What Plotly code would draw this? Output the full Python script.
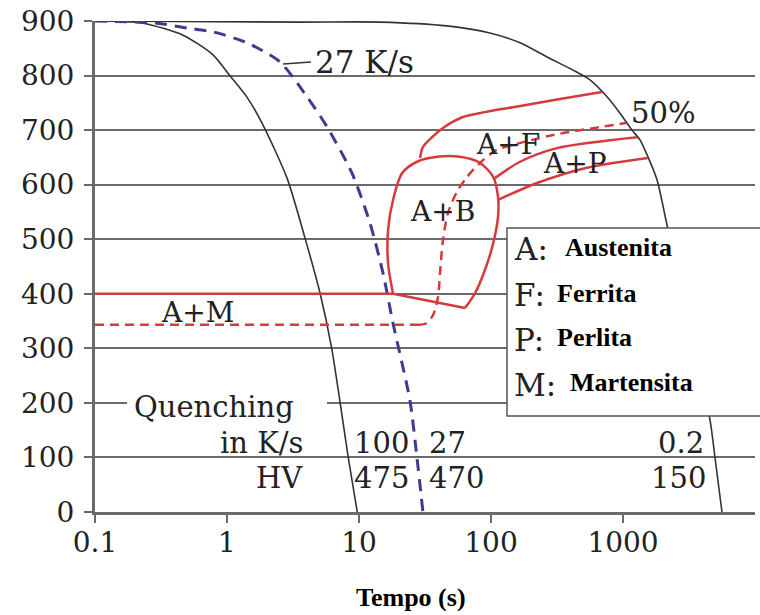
import plotly.graph_objects as go

# ---------------- data ----------------
# cooling curve 100 K/s
t_100 = [0.1, 0.231, 0.464, 0.783, 1.05, 1.42, 1.85, 2.85, 3.9, 5.07, 6.2, 7.2, 8.3, 9.7]
T_100 = [900, 896, 874, 838, 800, 760, 712, 612, 502, 401, 301, 200, 99, 0]
# cooling curve 27 K/s (dashed blue)
t_27 = [0.1, 0.295, 0.498, 0.784, 1.42, 2.52, 4.04, 5.73, 8.85, 12.1, 15.2, 18.1, 24.3, 27.5, 30.5]
T_27 = [900, 896, 887, 880, 860, 825, 761, 706, 621, 530, 438, 346, 205, 99, 0]
# cooling curve 0.2 K/s
t_02 = [0.1, 3.57, 14.4, 46.4, 98, 166, 266, 418, 562, 757, 949, 1170, 1345, 1545, 1810, 2155, 4560, 4980, 5620]
T_02 = [900, 898, 898, 891, 878, 860, 834, 810, 792, 761, 731, 700, 682, 651, 609, 526, 169, 99, 0]
# martensite start line
t_ms = [0.1, 18.1]
T_ms = [400, 400]
# bainite region (A+B)
t_bain = [18.1, 16.6, 16.6, 18.1, 21.2, 27.5, 39.0, 58.2, 82.5, 104, 113, 113, 104, 90.1, 75.7, 63.6]
T_bain = [400, 456, 517, 572, 621, 642, 651, 651, 640, 614, 577, 541, 493, 444, 401, 374]
t_bain_bottom = [63.6, 18.1]
T_bain_bottom = [374, 400]
# ferrite start
t_fer = [29.0, 30.5, 35.8, 43.3, 61.3, 90, 147, 333, 693]
T_fer = [649, 669, 687, 704, 724, 733, 742, 757, 770]
# 50 % line (dashed red): straight part, then curved part
t_50_flat = [0.1, 28.0]
T_50_flat = [343, 343]
t_50 = [28.0, 32.5, 36.4, 39.7, 41.1, 43.3, 47.2, 55.2, 65.8, 82.5, 111, 147, 295, 1055]
T_50 = [343, 346, 361, 394, 438, 499, 548, 587, 614, 640, 664, 673, 691, 713]
# pearlite lines
t_p1 = [107, 166, 316, 1276]
T_p1 = [612, 642, 667, 687]
t_p2 = [113, 223, 533, 1545]
T_p2 = [572, 603, 631, 649]

x_tickvals = [0.1, 1, 10, 100, 1000]
x_ticktext = ["0.1", "1", "10", "100", "1000"]
y_tickvals = [0, 100, 200, 300, 400, 500, 600, 700, 800, 900]

legend_letters = ["A:", "F:", "P:", "M:"]
legend_words = ["Austenita", "Ferrita", "Perlita", "Martensita"]

# ---------------- styling ----------------
RED = "#d63a3e"
BLUE = "#3d3d8f"
BLACK = "#333333"
GRID = "#6a6a6a"
SERIF = "DejaVu Serif"

fig = go.Figure()

def line(x, y, color, width, dash="solid", shape="spline", smoothing=0.8):
    fig.add_trace(go.Scatter(x=x, y=y, mode="lines",
                             line=dict(color=color, width=width, dash=dash, shape=shape,
                                       smoothing=smoothing if shape == "spline" else None),
                             hoverinfo="skip", showlegend=False))

line(t_100, T_100, BLACK, 1.6, smoothing=0.7)
line(t_02, T_02, BLACK, 1.6, smoothing=0.7)
line(t_27, T_27, BLUE, 3, dash="12px,8px", smoothing=0.7)
line(t_ms, T_ms, RED, 2.5, shape="linear")
line(t_bain, T_bain, RED, 2.5)
line(t_bain_bottom, T_bain_bottom, RED, 2.5, shape="linear")
line(t_fer, T_fer, RED, 2.5)
line(t_50_flat, T_50_flat, RED, 2.5, dash="9px,6px", shape="linear")
line(t_50, T_50, RED, 2.5, dash="9px,6px")
line(t_p1, T_p1, RED, 2.5)
line(t_p2, T_p2, RED, 2.5)

L, R, T, B = 95, 5, 21, 103
W, H = 760, 615
PW, PH = W - L - R, H - T - B

def px(xp):
    return (xp - L) / PW

def py(yp):
    return (T + PH - yp) / PH

shapes = []
# white patch behind "Quenching"
shapes.append(dict(type="rect", xref="paper", yref="paper", x0=px(127), x1=px(327),
                   y0=py(418), y1=py(396), fillcolor="white", line=dict(width=0), layer="above"))
# legend box
shapes.append(dict(type="rect", xref="paper", yref="paper", x0=px(507), x1=px(762),
                   y0=py(416), y1=py(228), fillcolor="white",
                   line=dict(color="#555555", width=1.5), layer="above"))
# leader for 27 K/s
shapes.append(dict(type="line", xref="paper", yref="paper", x0=px(283), x1=px(311),
                   y0=py(64), y1=py(62), line=dict(color=BLACK, width=1.5), layer="above"))

annotations = []

def txt(s, xp, yp, size=29, anchor="center", family=SERIF, color="#222222"):
    annotations.append(dict(text=s, x=px(xp), y=py(yp), xref="paper", yref="paper",
                            showarrow=False, xanchor=anchor, yanchor="middle",
                            font=dict(family=family, size=size, color=color)))

txt("27 K/s", 313, 62, size=31, anchor="left")
txt("50%", 629, 113, size=29, anchor="left")
txt("A+F", 508, 144, size=28)
txt("A+P", 575, 163, size=28)
txt("A+B", 442, 212, size=28)
txt("A+M", 197, 312, size=28)
txt("Quenching", 132, 407, size=29, anchor="left")
txt("in K/s", 306, 443, size=29, anchor="right")
txt("HV", 305, 478, size=29, anchor="right")
txt("100", 352, 443, size=29, anchor="left")
txt("27", 427, 443, size=29, anchor="left")
txt("475", 352, 478, size=29, anchor="left")
txt("470", 427, 478, size=29, anchor="left")
txt("0.2", 706, 443, size=29, anchor="right")
txt("150", 708, 478, size=29, anchor="right")

rows_y = [249, 295, 340, 385]
word_x = [563, 555, 555, 568]
for i in range(4):
    txt(legend_letters[i], 512, rows_y[i], size=31, anchor="left")
    txt("<b>" + legend_words[i] + "</b>", word_x[i], rows_y[i] - 2, size=26,
        anchor="left", family="Liberation Serif", color="#000000")

txt("<b>Tempo (s)</b>", 411, 597, size=26, family="Liberation Serif", color="#000000")

fig.update_layout(
    width=W, height=H,
    margin=dict(l=L, r=R, t=T, b=B),
    paper_bgcolor="white", plot_bgcolor="white",
    shapes=shapes, annotations=annotations,
    showlegend=False,
)
fig.update_xaxes(type="log", range=[-1, 4], tickvals=x_tickvals, ticktext=x_ticktext,
                 showgrid=False, zeroline=False, showline=True, linecolor=GRID, linewidth=3,
                 ticks="outside", ticklen=8, tickwidth=2, tickcolor=GRID, ticklabelstandoff=-5,
                 tickfont=dict(family=SERIF, size=28, color="#222222"))
fig.update_yaxes(range=[0, 900], tickvals=y_tickvals,
                 showgrid=True, gridcolor=GRID, gridwidth=2, zeroline=False,
                 showline=True, linecolor=GRID, linewidth=3,
                 ticks="outside", ticklen=8, tickwidth=2, tickcolor=GRID, ticklabelstandoff=4,
                 tickfont=dict(family=SERIF, size=28, color="#222222"))

fig.write_html("out.html")
